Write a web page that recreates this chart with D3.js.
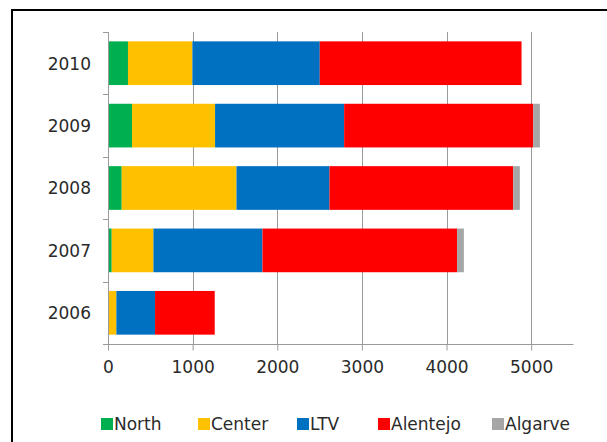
<!DOCTYPE html>
<html>
<head>
<meta charset="utf-8">
<script src="https://cdn.jsdelivr.net/npm/d3@7"></script>
<style>
  html, body { margin: 0; padding: 0; background: #fff; }
  svg { display: block; }
  text { font-family: "DejaVu Sans", Verdana, sans-serif; fill: #2a2a2a; }
</style>
</head>
<body>
<svg id="chart" width="607" height="442"></svg>
<script>
// Years shown top to bottom
const years = ["2010", "2009", "2008", "2007", "2006"];
// Region series (values per year, same order as years)
const regions = ["North", "Center", "LTV", "Alentejo", "Algarve"];
const north    = [236, 284, 162, 44, 0];
const center   = [761, 981, 1356, 493, 99];
const ltv      = [1505, 1525, 1099, 1288, 457];
const alentejo = [2384, 2234, 2170, 2300, 705];
const algarve  = [0, 79, 79, 80, 0];
const xTicks = [0, 1000, 2000, 3000, 4000, 5000];
const colors = ["#00b050", "#ffc000", "#0070c0", "#ff0000", "#a6a6a6"];

const seriesValues = [north, center, ltv, alentejo, algarve];
const rows = years.map((y, i) => {
  const r = { year: y };
  regions.forEach((k, j) => { r[k] = seriesValues[j][i]; });
  return r;
});

const svg = d3.select("#chart");

// Outer frame (runs off the right and bottom edges)
svg.append("rect")
  .attr("x", 12).attr("y", 10)
  .attr("width", 620).attr("height", 460)
  .attr("fill", "none").attr("stroke", "#000").attr("stroke-width", 2);

const plot = { left: 108, right: 573.5, top: 32, bottom: 344 };

const x = d3.scaleLinear().domain([0, 5500]).range([plot.left, plot.right]);
const y = d3.scaleBand().domain(years).range([plot.top, plot.bottom])
  .paddingInner(0.3).paddingOuter(0.15);

const gridColor = "#9a9a9a";

// Vertical gridlines
svg.append("g").selectAll("line")
  .data(xTicks.filter(t => t > 0))
  .join("line")
  .attr("x1", d => Math.round(x(d)) + 0.5).attr("x2", d => Math.round(x(d)) + 0.5)
  .attr("y1", plot.top).attr("y2", plot.bottom)
  .attr("stroke", gridColor).attr("stroke-width", 1);

// Stacked bars
const stack = d3.stack().keys(regions)(rows);
svg.append("g").selectAll("g")
  .data(stack)
  .join("g")
  .attr("fill", (d, i) => colors[i])
  .selectAll("rect")
  .data(d => d)
  .join("rect")
  .attr("x", d => x(d[0]))
  .attr("width", d => Math.max(0, x(d[1]) - x(d[0])))
  .attr("y", d => y(d.data.year))
  .attr("height", y.bandwidth());

// X axis
const xAxis = svg.append("g")
  .attr("transform", `translate(0,${plot.bottom + 0.5})`)
  .call(d3.axisBottom(x).tickValues(xTicks).tickSize(6).tickPadding(10).tickFormat(d3.format("d")));
xAxis.select(".domain").attr("stroke", gridColor).attr("d", `M${plot.left},0H${plot.right}`);
xAxis.selectAll(".tick line").attr("stroke", gridColor);
xAxis.selectAll(".tick text").attr("font-size", 17).style("font-family", "DejaVu Sans, Verdana, sans-serif").attr("fill", "#2a2a2a");

// Y axis: tick marks at band boundaries, labels at band centres
const yg = svg.append("g");
yg.append("line")
  .attr("x1", plot.left + 0.5).attr("x2", plot.left + 0.5)
  .attr("y1", plot.top).attr("y2", plot.bottom + 6)
  .attr("stroke", gridColor);
const boundaries = d3.range(years.length + 1).map(i => plot.top + i * (plot.bottom - plot.top) / years.length);
yg.selectAll("line.tick")
  .data(boundaries)
  .join("line")
  .attr("class", "tick")
  .attr("x1", plot.left - 5).attr("x2", plot.left)
  .attr("y1", d => Math.round(d) + 0.5).attr("y2", d => Math.round(d) + 0.5)
  .attr("stroke", gridColor);
yg.selectAll("text")
  .data(years)
  .join("text")
  .attr("x", 91)
  .attr("y", d => y(d) + y.bandwidth() / 2)
  .attr("dy", "0.38em")
  .attr("text-anchor", "end")
  .attr("font-size", 17)
  .text(d => d);

// Legend
const legendX = [101, 198, 297, 378, 492];
const legend = svg.append("g");
regions.forEach((r, i) => {
  legend.append("rect")
    .attr("x", legendX[i]).attr("y", 418)
    .attr("width", 12).attr("height", 12)
    .attr("fill", colors[i]);
  legend.append("text")
    .attr("x", legendX[i] + 13).attr("y", 424)
    .attr("dy", "0.36em")
    .attr("font-size", 17)
    .text(r);
});
</script>
</body>
</html>
